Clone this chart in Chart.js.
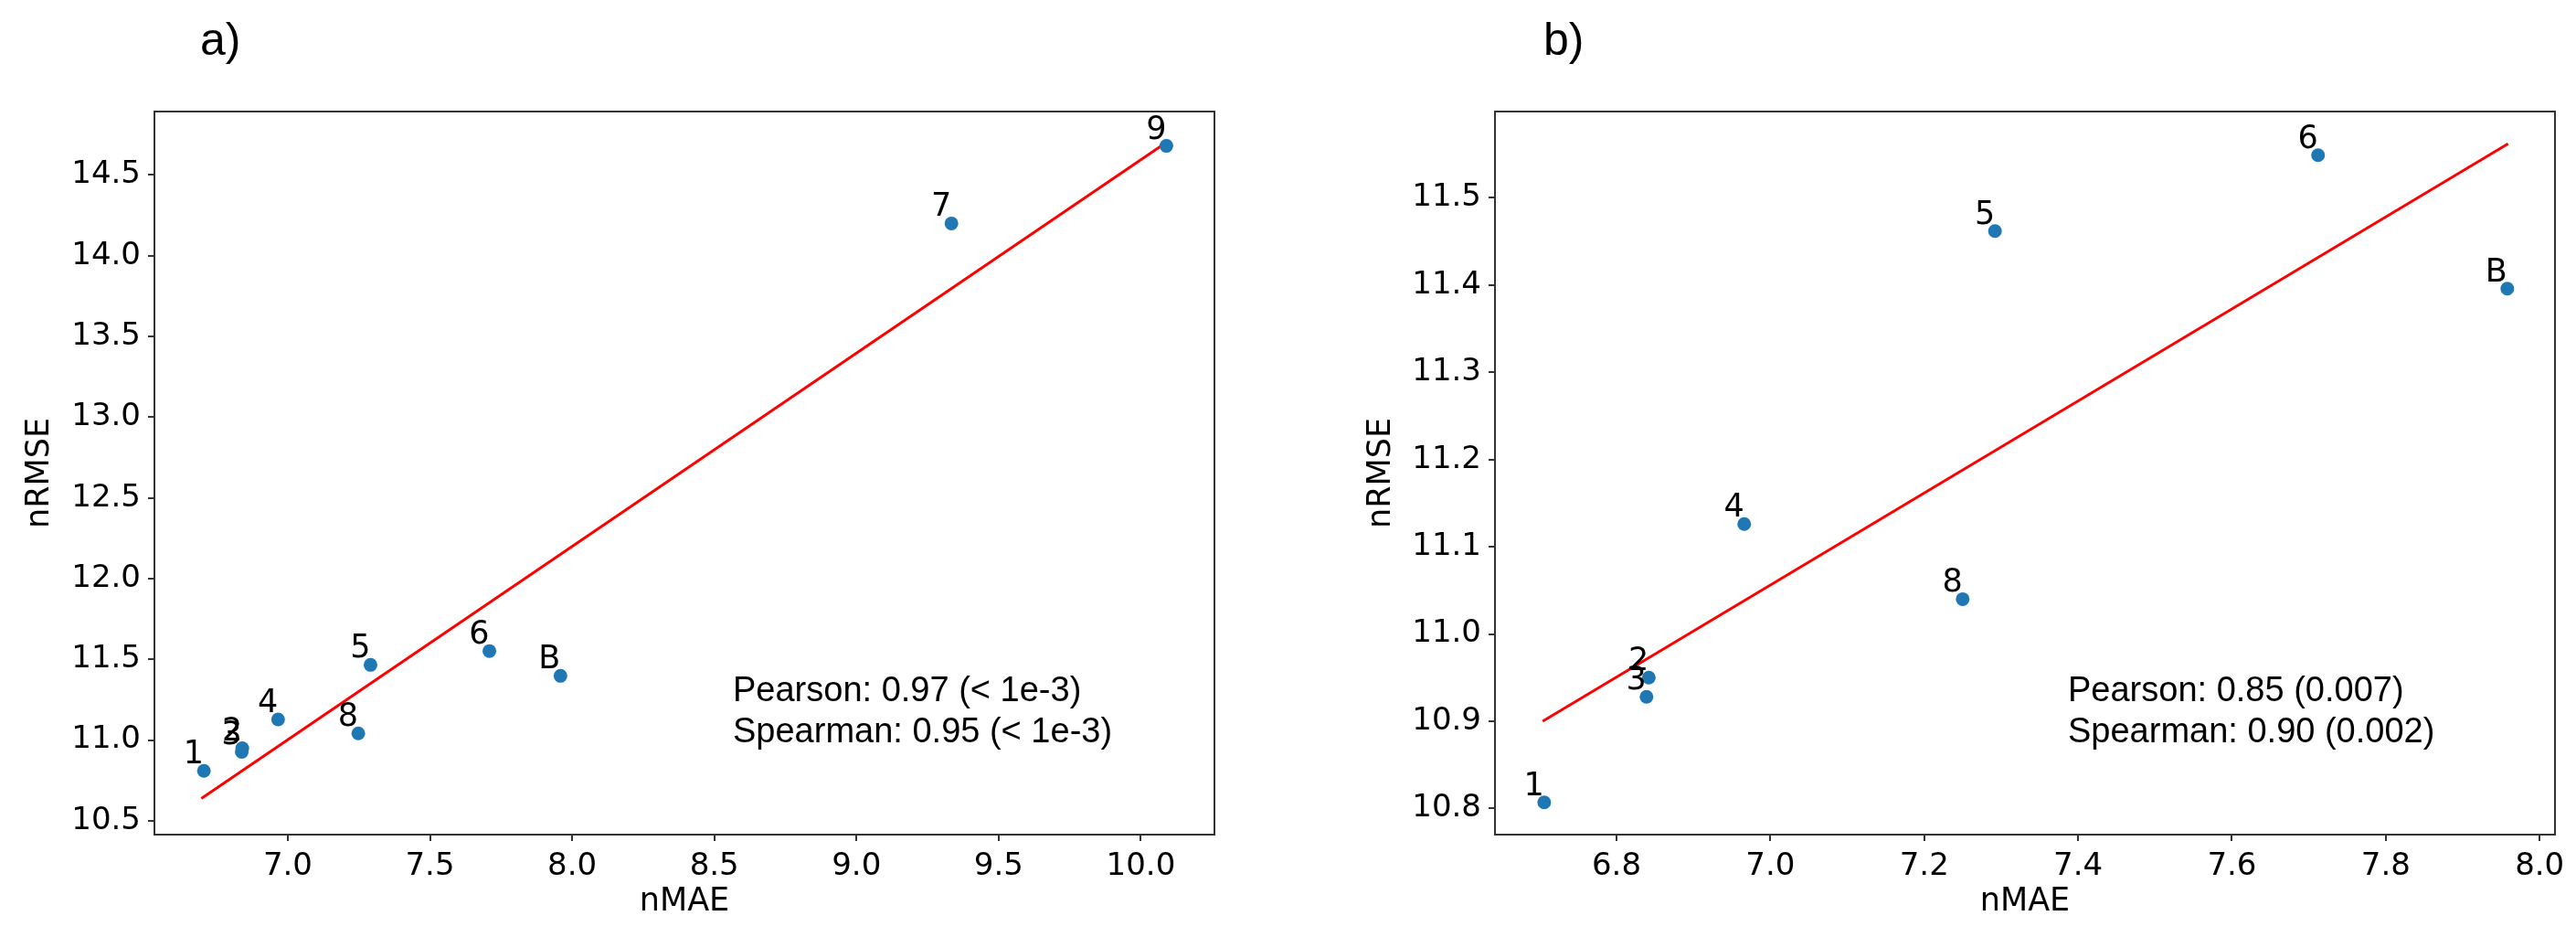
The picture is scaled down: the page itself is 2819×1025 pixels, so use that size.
<!DOCTYPE html>
<html>
<head>
<meta charset="utf-8">
<script src="https://cdn.jsdelivr.net/npm/chart.js@4.4.1/dist/chart.umd.min.js"></script>
<style>
  html, body { margin: 0; padding: 0; background: #fff; }
  body { width: 2819px; height: 1025px; position: relative; overflow: hidden; }
  .wrap { position: absolute; top: 0; height: 1025px; }
  #wa { left: 0; width: 1400px; }
  #wb { left: 1400px; width: 1419px; }
</style>
</head>
<body>
<div class="wrap" id="wa"><canvas id="ca"></canvas></div>
<div class="wrap" id="wb"><canvas id="cb"></canvas></div>
<script>
// ---------- data: panel a) ----------
const labelsA = ['1', '2', '3', '4', '5', '6', '7', '8', '9', 'B'];
const nmaeA   = [6.705, 6.840, 6.838, 6.966, 7.291, 7.709, 9.334, 7.248, 10.090, 7.959];
const nrmseA  = [10.810, 10.950, 10.928, 11.128, 11.466, 11.552, 14.200, 11.042, 14.680, 11.398];
const fitXA   = [6.696, 10.083];
const fitYA   = [10.638, 14.693];
const xTicksA = [7.0, 7.5, 8.0, 8.5, 9.0, 9.5, 10.0];
const yTicksA = [10.5, 11.0, 11.5, 12.0, 12.5, 13.0, 13.5, 14.0, 14.5];
const statsA  = ['Pearson: 0.97 (< 1e-3)', 'Spearman: 0.95 (< 1e-3)'];

// ---------- data: panel b) ----------
const labelsB = ['1', '2', '3', '4', '5', '6', '8', 'B'];
const nmaeB   = [6.706, 6.842, 6.839, 6.966, 7.292, 7.712, 7.250, 7.958];
const nrmseB  = [10.807, 10.950, 10.928, 11.126, 11.462, 11.549, 11.040, 11.396];
const fitXB   = [6.704, 7.959];
const fitYB   = [10.900, 11.562];
const xTicksB = [6.8, 7.0, 7.2, 7.4, 7.6, 7.8, 8.0];
const yTicksB = [10.8, 10.9, 11.0, 11.1, 11.2, 11.3, 11.4, 11.5];
const statsB  = ['Pearson: 0.85 (0.007)', 'Spearman: 0.90 (0.002)'];

Chart.defaults.font.family = '"DejaVu Sans", sans-serif';
Chart.defaults.color = '#000';
Chart.defaults.animation = false;

function pts(xs, ys) { return xs.map((x, i) => ({ x: x, y: ys[i] })); }

function makeChart(canvasId, cfg) {
  const frame = {
    id: 'frame',
    afterDatasetsDraw(chart) {
      const a = chart.chartArea, ctx = chart.ctx;
      ctx.save();
      ctx.strokeStyle = '#333';
      ctx.lineWidth = 2;
      ctx.strokeRect(a.left, a.top, a.right - a.left, a.bottom - a.top);
      // point labels
      const xs = chart.scales.x, ys = chart.scales.y;
      ctx.fillStyle = '#000';
      ctx.font = '35px "DejaVu Sans"';
      ctx.textAlign = 'right';
      ctx.textBaseline = 'alphabetic';
      cfg.labels.forEach((l, i) => {
        const px = xs.getPixelForValue(cfg.xs[i]);
        const py = ys.getPixelForValue(cfg.ys[i]);
        ctx.fillText(l, px, py - 8);
      });
      // stats text
      ctx.textAlign = 'left';
      ctx.font = '38px "Liberation Sans", Arial, sans-serif';
      ctx.fillText(cfg.stats[0], cfg.statsX, 767);
      ctx.fillText(cfg.stats[1], cfg.statsX, 812);
      // panel letter
      ctx.font = '50px "Liberation Sans", Arial, sans-serif';
      ctx.fillText(cfg.panel, cfg.panelX, 60);
      ctx.restore();
    }
  };
  const tickFont = { size: 34, family: '"DejaVu Sans"' };
  const titleFont = { size: 35, family: '"DejaVu Sans"', lineHeight: 1.2 };
  return new Chart(document.getElementById(canvasId), {
    type: 'scatter',
    data: {
      datasets: [
        { data: pts(cfg.xs, cfg.ys), backgroundColor: '#1f77b4', borderWidth: 0,
          pointRadius: 7.5, pointHoverRadius: 7.5, order: 0 },
        { type: 'line', data: pts(cfg.fitX, cfg.fitY), borderColor: '#ff0000', borderWidth: 3,
          pointRadius: 0, fill: false, tension: 0, order: 1 }
      ]
    },
    options: {
      responsive: true,
      maintainAspectRatio: false,
      animation: false,
      events: [],
      layout: { padding: { top: 122, left: 0, right: cfg.padRight, bottom: 0 } },
      plugins: { legend: { display: false }, tooltip: { enabled: false }, title: { display: false } },
      scales: {
        x: {
          type: 'linear', min: cfg.xMin, max: cfg.xMax,
          afterBuildTicks: s => { s.ticks = cfg.xTicks.map(v => ({ value: v })); },
          afterFit: s => { s.height = 112; },
          grid: { display: true, drawOnChartArea: false, drawTicks: true, tickLength: 7, color: '#333', lineWidth: 2 },
          border: { display: false },
          ticks: { font: tickFont, color: '#000', padding: 8, autoSkip: false, maxRotation: 0,
                   callback: v => Number(v).toFixed(1) },
          title: { display: true, text: 'nMAE', font: titleFont, color: '#000', padding: { top: 0, bottom: 17 } }
        },
        y: {
          type: 'linear', min: cfg.yMin, max: cfg.yMax,
          afterBuildTicks: s => { s.ticks = cfg.yTicks.map(v => ({ value: v })); },
          afterFit: s => { s.width = cfg.yWidth; },
          grid: { display: true, drawOnChartArea: false, drawTicks: true, tickLength: 7, color: '#333', lineWidth: 2 },
          border: { display: false },
          ticks: { font: tickFont, color: '#000', padding: 8, autoSkip: false,
                   callback: v => Number(v).toFixed(1) },
          title: { display: true, text: 'nRMSE', font: titleFont, color: '#000', padding: { top: cfg.yTitlePad, bottom: 0 } }
        }
      }
    },
    plugins: [frame]
  });
}

makeChart('ca', {
  labels: labelsA, xs: nmaeA, ys: nrmseA, fitX: fitXA, fitY: fitYA,
  xTicks: xTicksA, yTicks: yTicksA, stats: statsA,
  xMin: 6.531, xMax: 10.259, yMin: 10.415, yMax: 14.893,
  padRight: 71, yWidth: 169, yTitlePad: 23, statsX: 802, panel: 'a)', panelX: 219
});
makeChart('cb', {
  labels: labelsB, xs: nmaeB, ys: nrmseB, fitX: fitXB, fitY: fitYB,
  xTicks: xTicksB, yTicks: yTicksB, stats: statsB,
  xMin: 6.642, xMax: 8.020, yMin: 10.770, yMax: 11.599,
  padRight: 23, yWidth: 236, yTitlePad: 91, statsX: 863, panel: 'b)', panelX: 289
});
</script>
</body>
</html>
